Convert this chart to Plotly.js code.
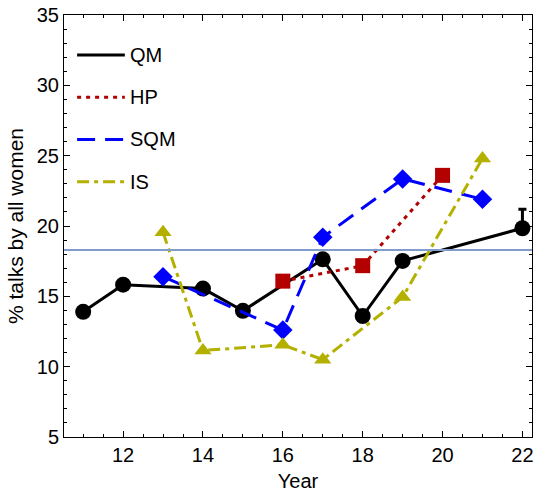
<!DOCTYPE html>
<html><head><meta charset="utf-8">
<script src="https://cdn.plot.ly/plotly-3.0.1.min.js"></script>
<style>html,body{margin:0;padding:0;background:#fff}</style>
</head><body><div id="chart" style="width:537px;height:492px"></div>
<script>
const qmYears = [11, 12, 14, 15, 17, 18, 19, 22];
const qmVals  = [13.9, 15.83, 15.55, 13.97, 17.63, 13.6, 17.52, 19.84];
const qmErrPlus = [0, 0, 0, 0, 0, 0, 0, 1.35];
const hpYears = [16, 18, 20];
const hpVals  = [16.08, 17.18, 23.6];
const sqmYears = [13, 16, 17, 19, 21];
const sqmVals  = [16.4, 12.6, 19.2, 23.35, 21.9];
const isYears = [13, 14, 16, 17, 19, 21];
const isVals  = [19.55, 11.15, 11.55, 10.5, 14.95, 24.8];
const refLine = 18.3;
const seriesNames = ['QM', 'HP', 'SQM', 'IS'];
const xTicks = [12, 14, 16, 18, 20, 22];

const cQM = '#000000', cHP = '#b30000', cSQM = '#0000ff', cIS = '#b3b000';
const lw = 3;
const dHP = '4px,5px', dSQM = '18px,10px', dIS = '12px,5px,4px,5px';
const traces = [
  {x: qmYears, y: qmVals, mode: 'lines+markers', showlegend: false,
   line: {color: cQM, width: lw}, marker: {symbol: 'circle', size: 16, color: cQM},
   error_y: {type: 'data', symmetric: false, array: qmErrPlus, arrayminus: qmErrPlus.map(()=>0), color: cQM, thickness: 3, width: 4}},
  {x: hpYears, y: hpVals, mode: 'lines+markers', showlegend: false,
   line: {color: cHP, width: lw, dash: dHP}, marker: {symbol: 'square', size: 15, color: cHP}},
  {x: sqmYears, y: sqmVals, mode: 'lines+markers', showlegend: false,
   line: {color: cSQM, width: lw, dash: dSQM}, marker: {symbol: 'diamond', size: 15, color: cSQM}},
  {x: isYears, y: isVals, mode: 'lines+markers', showlegend: false,
   line: {color: cIS, width: lw, dash: dIS}, marker: {symbol: 'triangle-up', size: 15, color: cIS}},
  {x: xTicks, y: [null, null, null, null, null, null], xaxis: 'x2', yaxis: 'y2', mode: 'markers', showlegend: false, hoverinfo: 'skip'}
];
const legendStyles = [
  {color: cQM, dash: 'solid'}, {color: cHP, dash: dHP},
  {color: cSQM, dash: dSQM}, {color: cIS, dash: dIS}
];
const shapes = [{type: 'line', xref: 'paper', x0: 0, x1: 1, yref: 'y', y0: refLine, y1: refLine,
  line: {color: '#7f9ccc', width: 2}}];
const annotations = [];
seriesNames.forEach((n, i) => {
  const yy = 0.905 - i * 0.1;
  shapes.push({type: 'line', xref: 'paper', yref: 'paper', x0: 0.028, x1: 0.13, y0: yy, y1: yy,
    line: {color: legendStyles[i].color, width: 3, dash: legendStyles[i].dash}});
  annotations.push({xref: 'paper', yref: 'paper', x: 0.136, y: yy, text: n, showarrow: false,
    xanchor: 'left', yanchor: 'middle', font: {size: 20, color: '#000'}});
});
const xr = [10.52, 22.24], yr = [5, 35];
const layout = {
  width: 537, height: 492,
  margin: {l: 64, r: 5, t: 15, b: 55},
  paper_bgcolor: '#fff', plot_bgcolor: '#fff',
  font: {family: 'Liberation Sans, Arial, sans-serif', color: '#000'},
  showlegend: false,
  xaxis: {range: xr, tickvals: xTicks, ticks: 'inside', ticklen: 6,
    tickcolor: '#000', showgrid: false, zeroline: false, showline: true, linecolor: '#000', linewidth: 1,
    mirror: true, tickfont: {size: 20}, title: {text: 'Year', font: {size: 20}, standoff: 9},
    minor: {dtick: 0.5, tick0: 0, ticks: 'inside', ticklen: 3, tickcolor: '#000', showgrid: false}},
  yaxis: {range: yr, dtick: 5, ticks: 'inside', ticklen: 6, tickcolor: '#000', showgrid: false,
    zeroline: false, showline: true, linecolor: '#000', linewidth: 1, mirror: true,
    tickfont: {size: 20}, title: {text: '% talks by all women', font: {size: 21}, standoff: 7},
    minor: {dtick: 1, ticks: 'inside', ticklen: 3, tickcolor: '#000', showgrid: false}},
  xaxis2: {overlaying: 'x', side: 'top', range: xr, tickvals: xTicks, ticks: 'inside', ticklen: 6, tickcolor: '#000',
    showticklabels: false, showgrid: false, zeroline: false, showline: false,
    minor: {dtick: 0.5, tick0: 0, ticks: 'inside', ticklen: 3, tickcolor: '#000', showgrid: false}},
  yaxis2: {overlaying: 'y', side: 'right', range: yr, dtick: 5, ticks: 'inside', ticklen: 6, tickcolor: '#000',
    showticklabels: false, showgrid: false, zeroline: false, showline: false,
    minor: {dtick: 1, ticks: 'inside', ticklen: 3, tickcolor: '#000', showgrid: false}},
  shapes: shapes, annotations: annotations
};
Plotly.newPlot('chart', traces, layout, {staticPlot: true});
</script></body></html>
